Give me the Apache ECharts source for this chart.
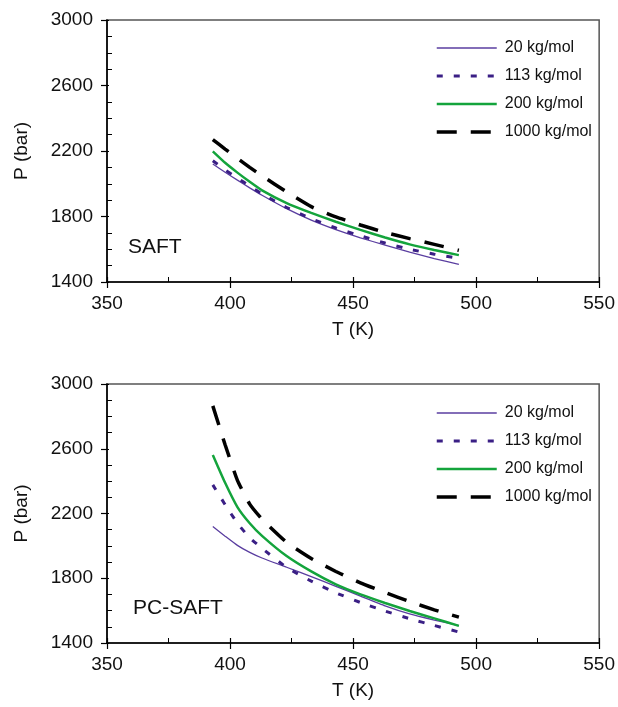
<!DOCTYPE html>
<html><head><meta charset="utf-8">
<script src="https://cdn.jsdelivr.net/npm/echarts@6/dist/echarts.min.js"></script>
<style>html,body{margin:0;padding:0;background:#fff}#c{width:618px;height:707px}</style>
</head><body><div id="c"></div>
<script>
// Shared temperatures (K)
var temps = [393, 398, 403, 408, 413, 423, 433, 443, 453, 463, 473, 483, 493];
var seriesNames = ['20 kg/mol', '113 kg/mol', '200 kg/mol', '1000 kg/mol'];
var xTicks = [350, 400, 450, 500, 550];
var yTicks = [1400, 1800, 2200, 2600, 3000];
var panelLabels = ['SAFT', 'PC-SAFT'];

// SAFT (top panel) pressures, bar
var saft20   = [2121, 2070, 2022, 1975, 1930, 1848, 1778, 1720, 1670, 1625, 1582, 1543, 1507];
var saft113  = [2140, 2085, 2035, 1985, 1938, 1855, 1787, 1730, 1682, 1638, 1600, 1570, 1544];
var saft200  = [2198, 2128, 2068, 2012, 1960, 1882, 1822, 1768, 1718, 1672, 1630, 1595, 1564];
var saft1000 = [2270, 2212, 2155, 2100, 2048, 1950, 1860, 1798, 1748, 1703, 1665, 1630, 1593];

// PC-SAFT (bottom panel) pressures, bar
var pc20   = [2119, 2060, 2003, 1960, 1925, 1868, 1810, 1750, 1690, 1630, 1580, 1542, 1508];
var pc113  = [2377, 2255, 2140, 2050, 1985, 1867, 1782, 1710, 1650, 1597, 1550, 1508, 1468];
var pc200  = [2562, 2390, 2240, 2140, 2062, 1937, 1842, 1762, 1700, 1647, 1598, 1552, 1506];
var pc1000 = [2865, 2625, 2405, 2258, 2165, 2022, 1922, 1842, 1772, 1712, 1656, 1605, 1560];

function zip(v){ return temps.map(function(t,i){ return [t, v[i]]; }); }

var FONT = 'Liberation Sans';
var styles = [
  {color:'#5a3ea0', width:1.3, type:'solid'},
  {color:'#3a1f85', width:3, type:[6,11]},
  {color:'#14a43c', width:2.5, type:'solid'},
  {color:'#000000', width:3.5, type:[20,14]}
];

var grids = [
  {left:107, top:20, width:493, height:262},
  {left:107, top:384, width:493, height:259}
];
function plain(v){ return String(v); }
var xAxes = [], yAxes = [];
grids.forEach(function(g, gi){
  xAxes.push({type:'value', gridIndex:gi, position:'bottom', min:xTicks[0], max:xTicks[xTicks.length-1], interval:50,
    name:'T (K)', nameLocation:'middle', nameGap:38,
    nameTextStyle:{fontFamily:FONT, fontSize:19, color:'#111'},
    axisLine:{show:true, onZero:false, lineStyle:{color:'#000', width:1.6}},
    axisTick:{show:true, length:6, lineStyle:{color:'#000', width:1.2}},
    axisLabel:{fontFamily:FONT, fontSize:19, color:'#111', margin:12, formatter:plain},
    splitLine:{show:false}});
  xAxes.push({type:'value', gridIndex:gi, position:'bottom', min:xTicks[0], max:xTicks[xTicks.length-1], interval:50,
    axisLine:{show:false, onZero:false}, axisLabel:{show:false}, splitLine:{show:false},
    axisTick:{show:true, inside:true, length:5, lineStyle:{color:'#000', width:1.2}},
    minorTick:{show:true, splitNumber:2, length:5, lineStyle:{color:'#000', width:1}}});
  yAxes.push({type:'value', gridIndex:gi, position:'left', min:yTicks[0], max:yTicks[yTicks.length-1], interval:400,
    name:'P (bar)', nameLocation:'middle', nameGap:76,
    nameTextStyle:{fontFamily:FONT, fontSize:19, color:'#111'},
    axisLine:{show:true, onZero:false, lineStyle:{color:'#000', width:1.6}},
    axisTick:{show:true, length:6, lineStyle:{color:'#000', width:1.2}},
    axisLabel:{fontFamily:FONT, fontSize:19, color:'#111', margin:14, formatter:plain},
    splitLine:{show:false}});
  yAxes.push({type:'value', gridIndex:gi, position:'left', min:yTicks[0], max:yTicks[yTicks.length-1], interval:400,
    axisLine:{show:false, onZero:false}, axisLabel:{show:false}, splitLine:{show:false},
    axisTick:{show:true, inside:true, length:2, lineStyle:{color:'#000', width:1.2}},
    minorTick:{show:true, splitNumber:4, length:5, lineStyle:{color:'#000', width:1}}});
});

var panelData = [[saft20, saft113, saft200, saft1000],[pc20, pc113, pc200, pc1000]];
var series = [];
panelData.forEach(function(pd, gi){
  pd.forEach(function(vals, si){
    var s = styles[si];
    series.push({type:'line', name:seriesNames[si], xAxisIndex:gi*2, yAxisIndex:gi*2,
      data:zip(vals), smooth:0.15, symbol:'none', animation:false,
      lineStyle:{color:s.color, width:s.width, type:s.type}, itemStyle:{color:s.color},
      z: 3});
  });
});

function legendAt(top){
  return {orient:'vertical', left:435, top:top, padding:0, itemWidth:60, itemHeight:14, itemGap:12,
    itemStyle:{opacity:0}, lineStyle:{width:'inherit'},
    data:seriesNames.map(function(n){ return {name:n}; }),
    textStyle:{fontFamily:FONT, fontSize:16, color:'#111', padding:[0,0,0,3]}, selectedMode:false};
}

var chart = echarts.init(document.getElementById('c'), null, {renderer:'canvas'});
chart.setOption({
  backgroundColor:'#fff',
  animation:false,
  grid: grids.map(function(g){ return Object.assign({show:true, borderColor:'#555', borderWidth:1.5, backgroundColor:'transparent', containLabel:false}, g); }),
  xAxis:xAxes, yAxis:yAxes, series:series,
  legend:[legendAt(40), legendAt(405)],
  graphic:[
    {type:'text', left:128, top:237, style:{text:panelLabels[0], font:'21px "Liberation Sans"', fill:'#111'}},
    {type:'text', left:133, top:598, style:{text:panelLabels[1], font:'21px "Liberation Sans"', fill:'#111'}}
  ]
});
</script></body></html>
